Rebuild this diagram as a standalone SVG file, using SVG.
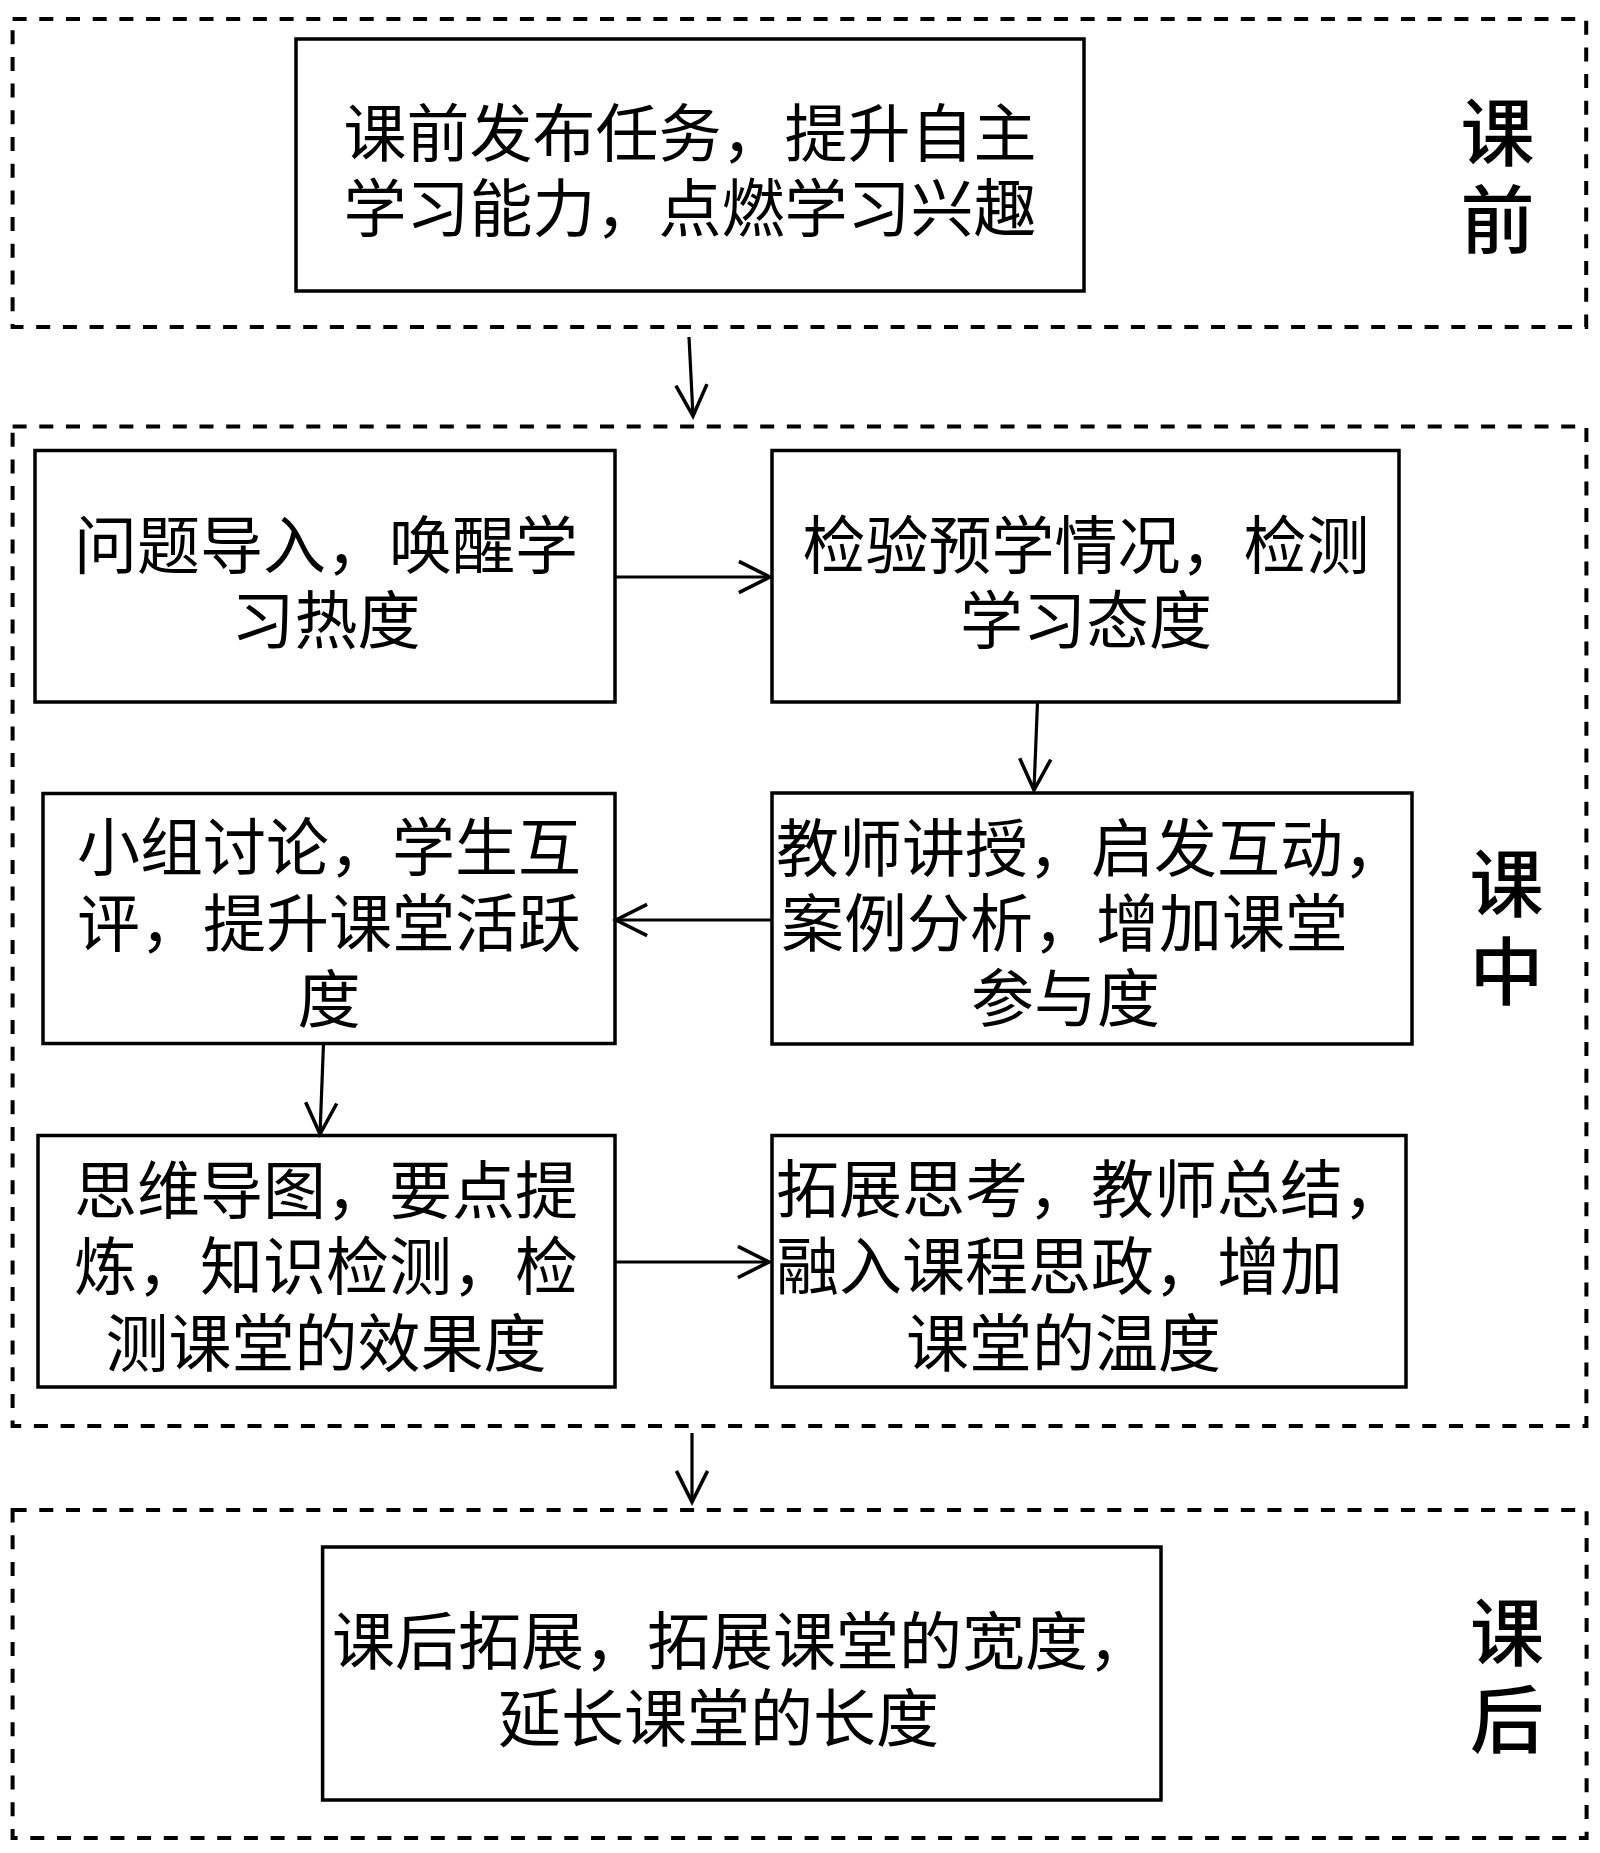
<svg xmlns="http://www.w3.org/2000/svg" width="1600" height="1853" viewBox="0 0 1600 1853">
<style>
.bg{fill:#ffffff}
.stage{fill:none;stroke:#000;stroke-width:4;stroke-dasharray:14 12.7}
.node{fill:#ffffff;stroke:#000;stroke-width:3.5}
.t{font-family:"Noto Sans CJK SC","Noto Sans CJK JP",sans-serif;font-size:63px;fill:#000}
.title{font-family:"Noto Sans CJK SC","Noto Sans CJK JP",sans-serif;font-size:74px;fill:#000;text-anchor:middle;font-weight:500}
.c{text-anchor:middle}
.conn{fill:none;stroke:#000;stroke-width:3.2;marker-end:url(#arr)}
</style>
<defs>
<marker id="arr" markerUnits="userSpaceOnUse" markerWidth="40" markerHeight="40" viewBox="-32 -18 36 36" refX="0" refY="0" orient="auto">
<path d="M-28,-14 L0,0 L-28,14" fill="none" stroke="#000" stroke-width="3.2"/>
</marker>
</defs>
<rect class="bg" x="0" y="0" width="1600" height="1853"/>

<g id="stage-before">
<rect class="stage" x="12.6" y="19" width="1573.6" height="308"/>
<text class="title"><tspan x="1497.5" y="160">课</tspan><tspan x="1497.5" y="247">前</tspan></text>
</g>
<g id="stage-during">
<rect class="stage" x="12.6" y="426.5" width="1573.8" height="999.5"/>
<text class="title"><tspan x="1506.5" y="911">课</tspan><tspan x="1506.5" y="999">中</tspan></text>
</g>
<g id="stage-after">
<rect class="stage" x="12.6" y="1510" width="1574" height="328"/>
<text class="title"><tspan x="1507" y="1660">课</tspan><tspan x="1507" y="1747">后</tspan></text>
</g>

<g id="node-pre">
<rect class="node" x="296" y="39" width="788" height="252"/>
<text class="t c"><tspan x="690" y="156">课前发布任务，提升自主</tspan><tspan x="690" y="231">学习能力，点燃学习兴趣</tspan></text>
</g>
<g id="node-intro">
<rect class="node" x="35" y="450.5" width="580" height="251.5"/>
<text class="t c"><tspan x="326" y="568">问题导入，唤醒学</tspan><tspan x="326" y="643">习热度</tspan></text>
</g>
<g id="node-check">
<rect class="node" x="772" y="450.5" width="627" height="251.5"/>
<text class="t c"><tspan x="1086" y="568">检验预学情况，检测</tspan><tspan x="1086" y="643">学习态度</tspan></text>
</g>
<g id="node-teach">
<rect class="node" x="772" y="793" width="640" height="251"/>
<text class="t"><tspan x="776" y="871">教师讲授，启发互动，</tspan><tspan x="781" y="946">案例分析，增加课堂</tspan><tspan x="971" y="1021">参与度</tspan></text>
</g>
<g id="node-group">
<rect class="node" x="43" y="793.5" width="572" height="250"/>
<text class="t c"><tspan x="329" y="870">小组讨论，学生互</tspan><tspan x="329" y="946">评，提升课堂活跃</tspan><tspan x="329" y="1022">度</tspan></text>
</g>
<g id="node-mindmap">
<rect class="node" x="38" y="1135.5" width="577" height="251.5"/>
<text class="t c"><tspan x="326" y="1213">思维导图，要点提</tspan><tspan x="326" y="1289">炼，知识检测，检</tspan><tspan x="326" y="1366">测课堂的效果度</tspan></text>
</g>
<g id="node-extend">
<rect class="node" x="772" y="1135.5" width="634" height="251.5"/>
<text class="t"><tspan x="776" y="1212">拓展思考，教师总结，</tspan><tspan x="776" y="1289">融入课程思政，增加</tspan><tspan x="906" y="1366">课堂的温度</tspan></text>
</g>
<g id="node-post">
<rect class="node" x="322.6" y="1547" width="838.4" height="253"/>
<text class="t"><tspan x="332" y="1664">课后拓展，拓展课堂的宽度，</tspan><tspan x="498" y="1741">延长课堂的长度</tspan></text>
</g>

<g id="connectors">
<path class="conn" d="M689,337 L693,416"/>
<path class="conn" d="M615,577 L770,577"/>
<path class="conn" d="M1037.5,702 L1034,790"/>
<path class="conn" d="M772,920 L616,920"/>
<path class="conn" d="M323.5,1043.5 L320,1134"/>
<path class="conn" d="M615,1262 L769,1262"/>
<path class="conn" d="M692,1433 L692,1502"/>
</g>
</svg>
